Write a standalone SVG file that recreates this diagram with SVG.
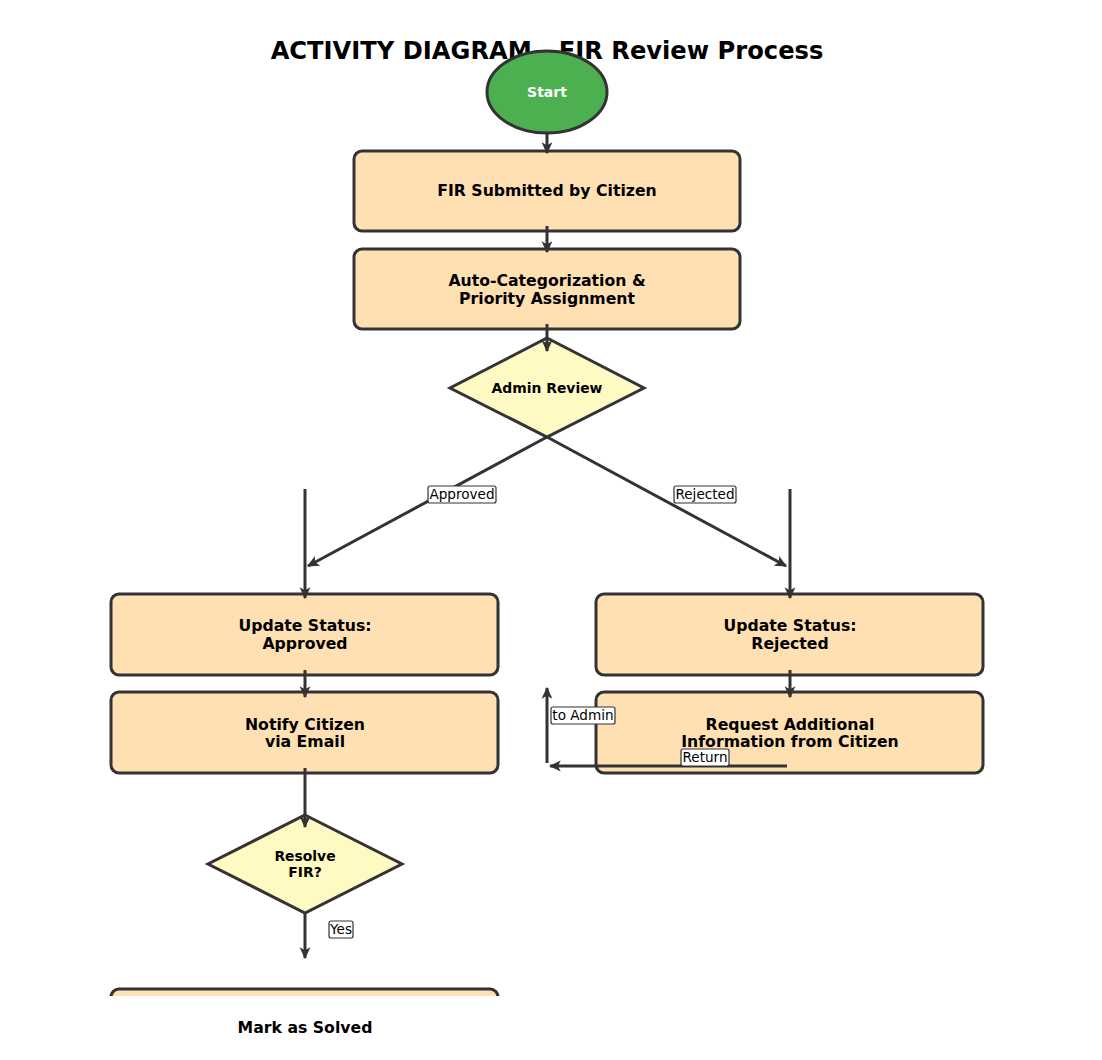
<svg xmlns="http://www.w3.org/2000/svg" width="1102" height="1060" viewBox="0 0 1102 1060">
<style>
.box{fill:#FFE0B2;stroke:#333333;stroke-width:3}
.dia{fill:#FFF9C4;stroke:#333333;stroke-width:3}
.t{font-family:"DejaVu Sans",sans-serif;font-weight:bold;font-size:15.7px;fill:#000;text-anchor:middle}
.td{font-family:"DejaVu Sans",sans-serif;font-weight:bold;font-size:13.9px;fill:#000;text-anchor:middle}
.ln{stroke:#333333;stroke-width:3;fill:none;marker-end:url(#ah)}
.lb{fill:#fff;stroke:#333333;stroke-width:1.2}
.lt{font-family:"DejaVu Sans",sans-serif;font-size:13.6px;fill:#000;text-anchor:middle}
</style>
<defs>
<marker id="ah" viewBox="0 0 10 10" refX="9" refY="5" markerWidth="4" markerHeight="4" orient="auto" markerUnits="strokeWidth">
<path d="M0,0.5 L10,5 L0,9.5 L2.5,5 Z" fill="#333333"/>
</marker>
<clipPath id="clipAx"><rect x="0" y="0" width="1102" height="996"/></clipPath>
</defs>
<rect width="1102" height="1060" fill="#ffffff"/>
<text x="547" y="59" font-family="DejaVu Sans, sans-serif" font-weight="bold" font-size="24.2" text-anchor="middle" fill="#000">ACTIVITY DIAGRAM - FIR Review Process</text>

<g id="start">
<ellipse cx="547" cy="92" rx="60" ry="41" fill="#4CAF50" stroke="#333333" stroke-width="3"/>
<text x="547" y="97" font-family="DejaVu Sans, sans-serif" font-weight="bold" font-size="14" text-anchor="middle" fill="#ffffff">Start</text>
</g>
<g id="submitted">
<rect class="box" x="354" y="151" width="386" height="80" rx="8"/>
<text class="t" x="547" y="195.5">FIR Submitted by Citizen</text>
</g>
<g id="autocat">
<rect class="box" x="354" y="249" width="386" height="80" rx="8"/>
<text class="t" x="547" y="286">Auto-Categorization &amp;</text>
<text class="t" x="547" y="304">Priority Assignment</text>
</g>
<g id="admin-review">
<polygon class="dia" points="547,338 644,388 547,437 450,388"/>
<text class="td" x="547" y="393">Admin Review</text>
</g>
<g id="update-approved">
<rect class="box" x="111" y="594" width="387" height="81" rx="8"/>
<text class="t" x="305" y="631">Update Status:</text>
<text class="t" x="305" y="649">Approved</text>
</g>
<g id="update-rejected">
<rect class="box" x="596" y="594" width="387" height="81" rx="8"/>
<text class="t" x="790" y="631">Update Status:</text>
<text class="t" x="790" y="649">Rejected</text>
</g>
<g id="notify">
<rect class="box" x="111" y="692" width="387" height="81" rx="8"/>
<text class="t" x="305" y="730">Notify Citizen</text>
<text class="t" x="305" y="747">via Email</text>
</g>
<g id="request-info">
<rect class="box" x="596" y="692" width="387" height="81" rx="8"/>
<text class="t" x="790" y="730">Request Additional</text>
<text class="t" x="790" y="747">Information from Citizen</text>
</g>
<g id="resolve">
<polygon class="dia" points="305,815 402,864 305,913 208,864"/>
<text class="td" x="305" y="861">Resolve</text>
<text class="td" x="305" y="877">FIR?</text>
</g>
<g id="mark-solved">
<rect class="box" x="111" y="989" width="387" height="81" rx="8" clip-path="url(#clipAx)"/>
<text class="t" x="305" y="1033">Mark as Solved</text>
</g>

<g id="connectors">
<line class="ln" x1="547" y1="134" x2="547" y2="153"/>
<line class="ln" x1="547" y1="226" x2="547" y2="252"/>
<line class="ln" x1="547" y1="324" x2="547" y2="351"/>
<line class="ln" x1="547" y1="437" x2="308" y2="566"/>
<line class="ln" x1="547" y1="437" x2="786" y2="566"/>
<line class="ln" x1="305" y1="489" x2="305" y2="598"/>
<line class="ln" x1="790" y1="489" x2="790" y2="598"/>
<line class="ln" x1="305" y1="670" x2="305" y2="697"/>
<line class="ln" x1="790" y1="670" x2="790" y2="697"/>
<line class="ln" x1="787" y1="766" x2="550" y2="766"/>
<line class="ln" x1="547" y1="763" x2="547" y2="688"/>
<line class="ln" x1="305" y1="768" x2="305" y2="827"/>
<line class="ln" x1="305" y1="914" x2="305" y2="958"/>
</g>

<g id="labels">
<rect class="lb" x="428" y="486" width="68" height="17" rx="2"/>
<text class="lt" x="462" y="499">Approved</text>
<rect class="lb" x="674" y="486" width="62" height="17" rx="2"/>
<text class="lt" x="705" y="499">Rejected</text>
<rect class="lb" x="551" y="707" width="64" height="17" rx="2"/>
<text class="lt" x="583" y="720">to Admin</text>
<rect class="lb" x="681" y="749" width="48" height="17" rx="2"/>
<text class="lt" x="705" y="762">Return</text>
<rect class="lb" x="329" y="921" width="24" height="17" rx="2"/>
<text class="lt" x="341" y="934">Yes</text>
</g>
</svg>
